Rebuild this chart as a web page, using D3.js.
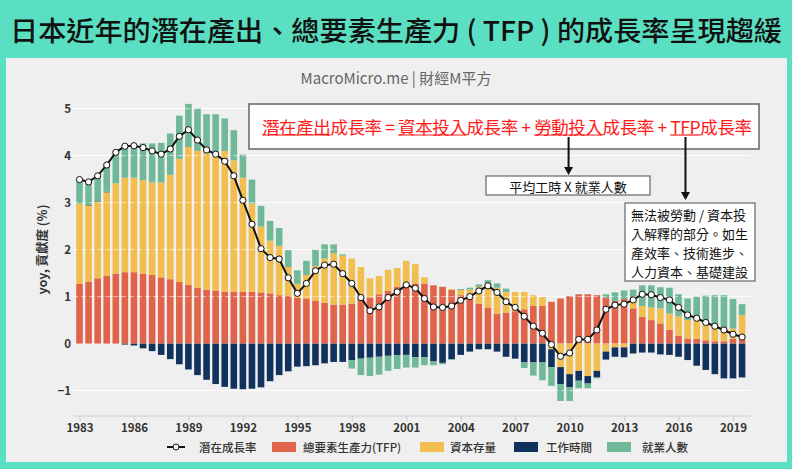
<!DOCTYPE html>
<html><head><meta charset="utf-8">
<script src="https://cdn.jsdelivr.net/npm/d3@7"></script>
<style>
body{margin:0;background:#5adfc2;}
svg{display:block;}
text{font-family:"Noto Sans CJK TC","Noto Sans",sans-serif;}
</style>
</head><body>
<svg id="c" width="792" height="469"></svg>
<script>
// ---------- data (half-yearly) ----------
const periods = [1983,1983.5,1984,1984.5,1985,1985.5,1986,1986.5,1987,1987.5,
1988,1988.5,1989,1989.5,1990,1990.5,1991,1991.5,1992,1992.5,
1993,1993.5,1994,1994.5,1995,1995.5,1996,1996.5,1997,1997.5,
1998,1998.5,1999,1999.5,2000,2000.5,2001,2001.5,2002,2002.5,
2003,2003.5,2004,2004.5,2005,2005.5,2006,2006.5,2007,2007.5,
2008,2008.5,2009,2009.5,2010,2010.5,2011,2011.5,2012,2012.5,
2013,2013.5,2014,2014.5,2015,2015.5,2016,2016.5,2017,2017.5,
2018,2018.5,2019,2019.5];

const tfp = [1.27,1.32,1.39,1.44,1.49,1.52,1.52,1.49,1.46,1.41,
1.37,1.31,1.25,1.19,1.15,1.12,1.10,1.10,1.10,1.10,
1.09,1.07,1.03,1.02,0.97,0.96,0.91,0.87,0.83,0.83,
0.85,0.95,0.98,1.05,1.12,1.21,1.26,1.28,1.28,1.24,
1.21,1.14,1.03,0.96,0.85,0.77,0.64,0.66,0.69,0.73,
0.80,0.80,0.89,0.96,1.01,1.05,1.05,1.03,0.98,0.91,
0.95,0.75,0.57,0.50,0.43,0.30,0.17,0.11,0.10,0.07,
0.05,0.05,0.10,0.09];

const capital = [1.71,1.62,1.63,1.78,1.92,2.01,2.01,1.99,1.97,2.02,
2.22,2.62,2.93,2.91,2.90,2.96,3.00,2.80,2.43,1.88,
1.40,1.12,1.05,0.61,0.30,0.50,0.74,0.94,1.09,1.04,
0.96,0.68,0.41,0.39,0.45,0.40,0.50,0.41,0.13,0.00,
0.00,0.02,0.11,0.19,0.36,0.51,0.55,0.44,0.41,0.37,
0.23,0.19,-0.12,-0.50,-0.65,-0.58,-0.69,-0.58,-0.17,-0.08,
-0.08,0.14,0.23,0.27,0.32,0.34,0.41,0.39,0.40,0.39,
0.34,0.29,0.22,0.52];

const hours = [0,0.01,0.01,0.01,0,-0.02,-0.04,-0.10,-0.16,-0.24,
-0.33,-0.44,-0.55,-0.67,-0.77,-0.86,-0.92,-0.96,-0.97,-0.96,
-0.93,-0.80,-0.67,-0.59,-0.49,-0.48,-0.46,-0.42,-0.39,-0.39,
-0.35,-0.32,-0.30,-0.28,-0.26,-0.25,-0.24,-0.29,-0.29,-0.38,
-0.41,-0.33,-0.24,-0.17,-0.12,-0.12,-0.17,-0.28,-0.32,-0.40,
-0.40,-0.40,-0.38,-0.36,-0.28,-0.21,-0.16,-0.14,-0.17,-0.20,
-0.21,-0.21,-0.19,-0.19,-0.23,-0.24,-0.28,-0.35,-0.47,-0.56,
-0.65,-0.74,-0.74,-0.72];

const employment = [0.50,0.48,0.53,0.57,0.66,0.66,0.68,0.78,0.83,0.84,
0.88,0.92,0.92,0.90,0.83,0.80,0.69,0.64,0.49,0.51,
0.44,0.42,0.38,0.36,0.29,0.30,0.35,0.30,0.19,0.03,
-0.18,-0.35,-0.39,-0.38,-0.32,-0.29,-0.27,-0.22,-0.17,-0.08,
-0.03,-0.02,0.02,0.04,0.05,0.07,0.09,0.07,0.00,-0.12,
-0.28,-0.38,-0.40,-0.36,-0.29,-0.16,-0.10,-0.02,0.07,0.18,
0.18,0.26,0.44,0.47,0.45,0.55,0.47,0.46,0.50,0.56,
0.64,0.69,0.63,0.23];

const potential = [3.49,3.44,3.57,3.80,4.07,4.20,4.21,4.17,4.10,4.03,
4.14,4.41,4.55,4.33,4.12,4.03,3.88,3.57,3.05,2.54,
2.02,1.83,1.80,1.40,1.07,1.28,1.55,1.67,1.69,1.49,
1.28,0.98,0.70,0.78,0.98,1.10,1.25,1.18,0.96,0.78,
0.77,0.80,0.92,1.00,1.12,1.23,1.09,0.89,0.77,0.58,
0.37,0.22,-0.02,-0.27,-0.20,0.09,0.09,0.29,0.73,0.82,
0.84,0.93,1.05,1.04,0.98,0.93,0.77,0.61,0.54,0.45,
0.37,0.29,0.20,0.14];

const seriesKeys = ["tfp","capital","hours","employment"];
const seriesNames = ["總要素生產力(TFP)","資本存量","工作時間","就業人數"];
const seriesColors = ["#e0644a","#f2be50","#12325e","#70b998"];
const lineName = "潛在成長率";
const xTicks = [1983,1986,1989,1992,1995,1998,2001,2004,2007,2010,2013,2016,2019];
const yTicks = [-1,0,1,2,3,4,5];
const titleText = "日本近年的潛在產出、總要素生產力 ( TFP ) 的成長率呈現趨緩";
const eqText = "潛在產出成長率 = 資本投入成長率 + 勞動投入成長率 + TFP成長率";
const eqUnderlined = ["潛在產出","資本投入","勞動投入","TFP"];
const laborNote = "平均工時 X 就業人數";
const tfpNote = ["無法被勞動 / 資本投","入解釋的部分。如生","產效率、技術進步、","人力資本、基礎建設"];

// ---------- drawing ----------
const svg = d3.select("#c");
svg.append("rect").attr("width",792).attr("height",469).attr("fill","#5adfc2");
svg.append("text").attr("x",396).attr("y",29).attr("text-anchor","middle")
  .attr("dominant-baseline","central").attr("font-size",27.5).attr("font-weight",500)
  .attr("textLength",772).attr("lengthAdjust","spacingAndGlyphs")
  .attr("fill","#111").text(titleText);
svg.append("rect").attr("x",6).attr("y",58).attr("width",781).attr("height",404).attr("fill","#efefef");

svg.append("text").attr("x",396).attr("y",77).attr("text-anchor","middle")
  .attr("dominant-baseline","central").attr("font-size",15).attr("fill","#666")
  .attr("font-family","'Open Sans','Noto Sans CJK TC',sans-serif")
  .text("MacroMicro.me | 財經M平方");

const x = d3.scaleLinear().domain([1983,2019]).range([79.5,733]);
const y = d3.scaleLinear().domain([-1.54,5.3]).range([416,94.5]);
const barW = 6.6;

// gridlines (under)
svg.append("g").selectAll("line").data(yTicks).join("line")
  .attr("x1",x(1982.65)).attr("x2",x(2019.95))
  .attr("y1",d=>y(d)).attr("y2",d=>y(d))
  .attr("stroke","#ffffff").attr("stroke-width",1);

// stacked bars
const rows = periods.map((p,i)=>({p, tfp:tfp[i], capital:capital[i], hours:hours[i], employment:employment[i]}));
const stack = d3.stack().keys(seriesKeys).offset(d3.stackOffsetDiverging);
const layers = stack(rows);
svg.append("g").selectAll("g").data(layers).join("g")
  .attr("fill",(d,i)=>seriesColors[i])
  .selectAll("rect").data(d=>d).join("rect")
  .attr("x",d=>x(d.data.p)-barW/2).attr("width",barW)
  .attr("y",d=>y(Math.max(d[0],d[1])))
  .attr("height",d=>Math.abs(y(d[0])-y(d[1])));

// gridlines (over, dashed)
svg.append("g").selectAll("line").data(yTicks.filter(d=>d!==0)).join("line")
  .attr("x1",x(1982.65)).attr("x2",x(2019.95))
  .attr("y1",d=>y(d)).attr("y2",d=>y(d))
  .attr("stroke","#ffffff").attr("stroke-opacity",0.55).attr("stroke-dasharray","5,3");

// potential growth line
const lineGen = d3.line().x((d,i)=>x(periods[i])).y(d=>y(d));
svg.append("path").datum(potential).attr("d",lineGen)
  .attr("fill","none").attr("stroke","#111").attr("stroke-width",2);
svg.append("g").selectAll("circle").data(potential).join("circle")
  .attr("cx",(d,i)=>x(periods[i])).attr("cy",d=>y(d)).attr("r",3.1)
  .attr("fill","#fff").attr("stroke","#111").attr("stroke-width",1);

// x axis
svg.append("line").attr("x1",x(1982.65)).attr("x2",x(2019.95))
  .attr("y1",y(-1.54)).attr("y2",y(-1.54)).attr("stroke","#ccd").attr("stroke-width",1);
const xAxis = svg.append("g").attr("transform",`translate(0,${y(-1.54)})`)
  .call(d3.axisBottom(x).tickValues(xTicks).tickFormat(d3.format("d")).tickSize(5).tickPadding(3));
xAxis.select(".domain").remove();
xAxis.selectAll(".tick line").attr("stroke","#ccd");
xAxis.selectAll("text").attr("font-size",11.5).attr("font-weight",700).attr("fill","#333")
  .attr("font-family","'Noto Sans','Noto Sans CJK TC',sans-serif");

// y axis
const yAxis = svg.append("g").attr("transform","translate(76,0)")
  .call(d3.axisLeft(y).tickValues(yTicks).tickFormat(d3.format("d")).tickSize(0).tickPadding(5));
yAxis.select(".domain").remove();
yAxis.selectAll("text").attr("font-size",11.5).attr("font-weight",700).attr("fill","#333")
  .attr("font-family","'Noto Sans','Noto Sans CJK TC',sans-serif");
svg.append("text").attr("transform",`translate(41,${y(2)}) rotate(-90)`)
  .attr("text-anchor","middle").attr("dominant-baseline","central")
  .attr("font-size",12.5).attr("font-weight",700).attr("fill","#333").text("yoy, 貢獻度 (%)");

// legend
const lg = svg.append("g").attr("transform","translate(0,447)");
lg.append("line").attr("x1",167).attr("x2",185).attr("stroke","#111").attr("stroke-width",2);
lg.append("circle").attr("cx",176).attr("r",3).attr("fill","#fff").attr("stroke","#111");
lg.append("text").attr("x",199).attr("dominant-baseline","central").attr("font-size",11.5)
  .attr("font-weight",500).attr("fill","#333").text(lineName);
const legX = [[272,303],[420,450],[514,546],[607,642]];
seriesNames.forEach((n,i)=>{
  lg.append("rect").attr("x",legX[i][0]).attr("y",-5).attr("width",24).attr("height",10).attr("fill",seriesColors[i]);
  lg.append("text").attr("x",legX[i][1]).attr("dominant-baseline","central").attr("font-size",11.5)
    .attr("font-weight",500).attr("fill","#333").text(n);
});

// annotation: equation box
svg.append("rect").attr("x",249).attr("y",104).attr("width",510).attr("height",45)
  .attr("fill","#fff").attr("stroke","#666").attr("stroke-width",1.5);
const eq = svg.append("text").attr("x",262).attr("y",126)
  .attr("dominant-baseline","central").attr("font-size",17.5).attr("font-weight",400)
  .attr("textLength",490).attr("lengthAdjust","spacing")
  .attr("fill","#ff1a1a").text(eqText);
const eqNode = eq.node();
const centers = {};
eqUnderlined.forEach(t=>{
  const i = eqText.indexOf(t);
  const x0 = eqNode.getStartPositionOfChar(i).x;
  const x1 = eqNode.getEndPositionOfChar(i+t.length-1).x;
  centers[t] = (x0+x1)/2;
  svg.append("line").attr("x1",x0).attr("x2",x1).attr("y1",135).attr("y2",135)
    .attr("stroke","#ff1a1a").attr("stroke-width",1.2);
});

// arrows
function arrow(cx, y0, y1){
  svg.append("line").attr("x1",cx).attr("x2",cx).attr("y1",y0).attr("y2",y1-7)
    .attr("stroke","#111").attr("stroke-width",2);
  svg.append("path").attr("d",`M${cx-4.5},${y1-8}L${cx+4.5},${y1-8}L${cx},${y1}Z`).attr("fill","#111");
}
arrow(centers["勞動投入"],137,175);
arrow(centers["TFP"],137,200);

// labor note box
svg.append("rect").attr("x",486).attr("y",176).attr("width",164).attr("height",19)
  .attr("fill","#fff").attr("stroke","#666").attr("stroke-width",1.2);
svg.append("text").attr("x",568).attr("y",186).attr("text-anchor","middle")
  .attr("dominant-baseline","central").attr("font-size",13).attr("fill","#111").text(laborNote);

// tfp note box
svg.append("rect").attr("x",625).attr("y",203).attr("width",130).attr("height",78)
  .attr("fill","#fff").attr("stroke","#666").attr("stroke-width",1.2);
tfpNote.forEach((t,i)=>{
  svg.append("text").attr("x",631).attr("y",214+i*19).attr("dominant-baseline","central")
    .attr("font-size",13).attr("fill","#111").text(t);
});
</script>
</body></html>
